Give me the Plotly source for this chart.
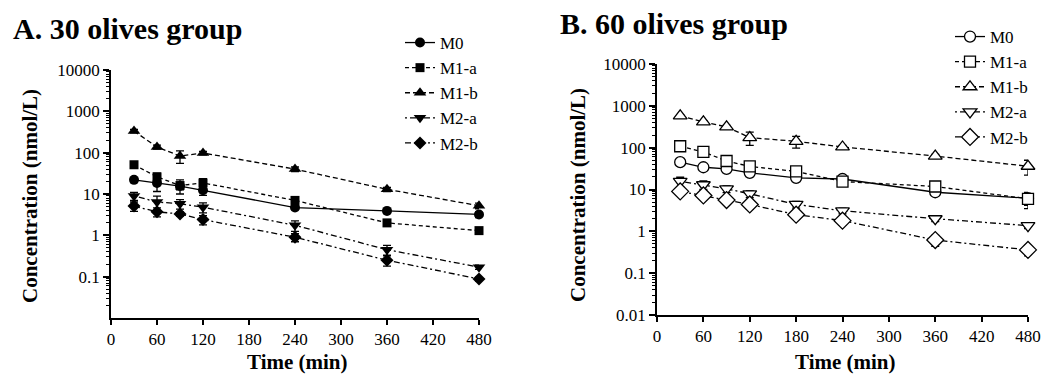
import plotly.graph_objects as go

# ---------------- data ----------------
series_names = ["M0", "M1-a", "M1-b", "M2-a", "M2-b"]

A_time = [30, 60, 90, 120, 240, 360, 480]
A_M0 = [22, 18.5, 15.6, 12.3, 4.7, 3.9, 3.2]
A_M0_err = [2, 7, 3, 3, 0.5, 0.4, 0.5]
A_M1a = [51, 26, 16, 18.5, 7, 2.0, 1.3]
A_M1a_err = [8, 6, 6, 5, 1.5, 0.3, 0.2]
A_M1b = [333, 137, 83, 98, 40, 13, 5.2]
A_M1b_err = [30, 15, 28, 10, 5, 1.5, 0.8]
A_M2a = [9, 6.4, 5.8, 4.8, 1.75, 0.45, 0.17]
A_M2a_err = [2, 2.5, 1.5, 1.3, 0.5, 0.12, 0.02]
A_M2b = [5.1, 3.7, 3.3, 2.4, 0.9, 0.25, 0.088]
A_M2b_err = [1.3, 0.9, 0.4, 0.6, 0.2, 0.07, 0.01]

B_time = [30, 60, 90, 120, 180, 240, 360, 480]
B_M0 = [45, 34, 31, 25, 19, 17.8, 8.6, 6.2]
B_M0_err = [3, 3, 3, 3, 2, 2, 1, 2]
B_M1a = [108, 79, 48, 35.6, 27, 15.5, 11.8, 6]
B_M1a_err = [8, 6, 5, 4, 3, 2, 1.5, 2.5]
B_M1b = [575, 412, 315, 174, 142, 104, 63, 36]
B_M1b_err = [40, 30, 25, 60, 45, 10, 6, 14]
B_M2a = [15.6, 13, 10.4, 7.9, 4.4, 3.1, 2.0, 1.37]
B_M2a_err = [4, 3, 2, 1.5, 0.8, 0.5, 0.3, 0.2]
B_M2b = [9, 7.2, 5.6, 4.4, 2.5, 1.8, 0.62, 0.36]
B_M2b_err = [1.5, 1.2, 1, 1, 0.5, 0.4, 0.18, 0.1]

x_ticks = [0, 60, 120, 180, 240, 300, 360, 420, 480]
A_y_ticks = [0.1, 1, 10, 100, 1000, 10000]
A_y_labels = ["0.1", "1", "10", "100", "1000", "10000"]
B_y_ticks = [0.01, 0.1, 1, 10, 100, 1000, 10000]
B_y_labels = ["0.01", "0.1", "1", "10", "100", "1000", "10000"]

panel_titles = ["<b>A. 30 olives group</b>", "<b>B. 60 olives group</b>"]
x_title = "<b>Time (min)</b>"
y_title = "<b>Concentration (nmol/L)</b>"

# ---------------- styles ----------------
# the page body adds an 8 px offset, so the figure is 8 px smaller and
# positions below are given in window pixels
OFF = 8
W, H = 1052 - OFF, 375 - OFF
FONT = "Liberation Serif, Times New Roman, serif"
dashes = ["solid", "4px,3px", "5px,3px", "2px,3px,6px,3px", "6px,3px,2px,3px"]
symbols = ["circle", "square", "triangle-up", "triangle-down", "diamond"]
filled_sizes = [10, 9, 11, 11, 10]
open_sizes = [11, 11, 12, 12, 13]

def px_x(p):
    return (p - OFF) / W

def px_y(p):
    return 1 - (p - OFF) / H

fig = go.Figure()

A_vals = [A_M0, A_M1a, A_M1b, A_M2a, A_M2b]
A_errs = [A_M0_err, A_M1a_err, A_M1b_err, A_M2a_err, A_M2b_err]
B_vals = [B_M0, B_M1a, B_M1b, B_M2a, B_M2b]
B_errs = [B_M0_err, B_M1a_err, B_M1b_err, B_M2a_err, B_M2b_err]

for i, name in enumerate(series_names):
    fig.add_trace(go.Scatter(
        x=A_time, y=A_vals[i], name=name, mode="lines+markers",
        xaxis="x", yaxis="y", legend="legend",
        line=dict(color="black", width=1.3, dash=dashes[i]),
        marker=dict(symbol=symbols[i], size=filled_sizes[i], color="black"),
        error_y=dict(type="data", array=A_errs[i], color="black", thickness=1.3, width=4),
        cliponaxis=False,
    ))

for i, name in enumerate(series_names):
    fig.add_trace(go.Scatter(
        x=B_time, y=B_vals[i], name=name, mode="lines+markers",
        xaxis="x2", yaxis="y2", legend="legend2",
        line=dict(color="black", width=1.3, dash=dashes[i]),
        marker=dict(symbol=symbols[i], size=open_sizes[i], color="white",
                    line=dict(color="black", width=1.3)),
        error_y=dict(type="data", array=B_errs[i], color="black", thickness=1.3, width=4),
        cliponaxis=False,
    ))

minor_vals = [m * 10 ** k for k in range(-2, 4) for m in range(2, 10)]

def xaxis(domain, anchor):
    return dict(
        domain=domain, anchor=anchor, range=[0, 480], tickvals=x_ticks,
        showline=True, linecolor="black", linewidth=1.5,
        ticks="outside", ticklen=5, tickwidth=1.5, tickcolor="black",
        showgrid=False, zeroline=False, automargin=False,
        tickfont=dict(family=FONT, size=17, color="black"),
    )

def yaxis(domain, anchor, tv, tl):
    return dict(
        domain=domain, anchor=anchor, type="log", range=[-2, 4],
        tickvals=tv, ticktext=tl,
        showline=True, linecolor="black", linewidth=1.5,
        ticks="outside", ticklen=6, tickwidth=1.5, tickcolor="black",
        minor=dict(tickmode="array", tickvals=minor_vals, ticks="outside",
                   ticklen=3, tickwidth=1, tickcolor="black", showgrid=False),
        showgrid=False, zeroline=False, automargin=False,
        tickfont=dict(family=FONT, size=17, color="black"),
    )

legend_common = dict(
    font=dict(family=FONT, size=17, color="black"),
    bgcolor="rgba(0,0,0,0)", tracegroupgap=0, itemwidth=30,
    xanchor="left", yanchor="top",
)

fig.update_layout(
    width=W, height=H,
    font=dict(family=FONT, color="black"),
    margin=dict(l=0, r=0, t=0, b=0),
    paper_bgcolor="white", plot_bgcolor="white",
    xaxis=xaxis([px_x(111), px_x(479)], "y"),
    yaxis=yaxis([px_y(318), px_y(70)], "x", A_y_ticks, A_y_labels),
    xaxis2=xaxis([px_x(657), px_x(1028)], "y2"),
    yaxis2=yaxis([px_y(315), px_y(64)], "x2", B_y_ticks, B_y_labels),
    legend=dict(x=px_x(400), y=px_y(25), **legend_common),
    legend2=dict(x=px_x(950), y=px_y(19), **legend_common),
    showlegend=True,
)

ann_font_t = dict(family=FONT, size=30, color="black")
ann_font_a = dict(family=FONT, size=21, color="black")
annotations = [
    dict(text=panel_titles[0], x=px_x(11), y=px_y(28), xref="paper", yref="paper",
         xanchor="left", yanchor="middle", showarrow=False, font=ann_font_t),
    dict(text=panel_titles[1], x=px_x(558), y=px_y(23), xref="paper", yref="paper",
         xanchor="left", yanchor="middle", showarrow=False, font=ann_font_t),
    dict(text=x_title, x=px_x(297), y=px_y(362), xref="paper", yref="paper",
         xanchor="center", yanchor="middle", showarrow=False, font=ann_font_a),
    dict(text=x_title, x=px_x(845), y=px_y(362), xref="paper", yref="paper",
         xanchor="center", yanchor="middle", showarrow=False, font=ann_font_a),
    dict(text=y_title, x=px_x(30), y=px_y(196), xref="paper", yref="paper",
         xanchor="center", yanchor="middle", showarrow=False, font=ann_font_a, textangle=-90),
    dict(text=y_title, x=px_x(578), y=px_y(195), xref="paper", yref="paper",
         xanchor="center", yanchor="middle", showarrow=False, font=ann_font_a, textangle=-90),
]
fig.update_layout(annotations=annotations)

fig.write_html("out.html")
